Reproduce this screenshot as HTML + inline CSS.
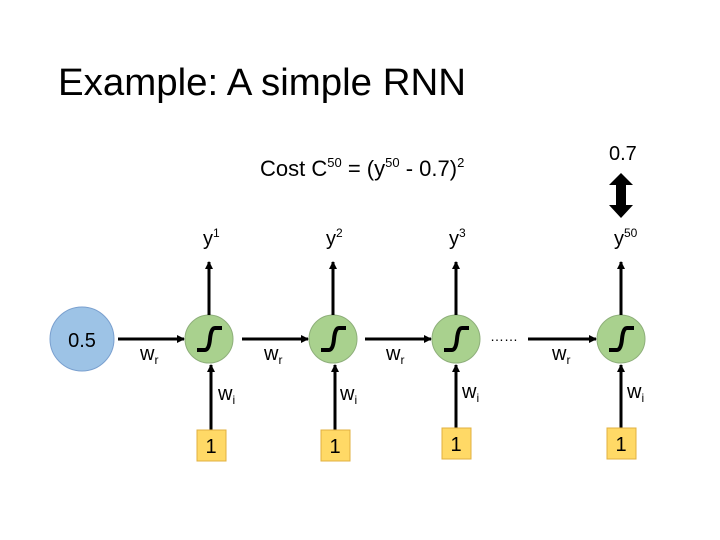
<!DOCTYPE html>
<html><head><meta charset="utf-8"><style>
html,body{margin:0;padding:0;background:#fff}
svg{display:block}
text{font-family:"Liberation Sans",sans-serif;fill:#000}
</style></head><body>
<svg width="720" height="540" viewBox="0 0 720 540" xmlns="http://www.w3.org/2000/svg">
<defs>
<marker id="a" markerWidth="8" markerHeight="8" refX="7" refY="4" orient="auto" markerUnits="userSpaceOnUse">
<path d="M0,0 L8,4 L0,8 z" fill="#000"/></marker>
<g id="sig"><circle r="24" fill="#a9d18e" stroke="#8eaf7a" stroke-width="1"/>
<path d="M-12,11 L-4,11 Q0,11 1,0 Q2,-11 6,-11 L13,-11" fill="none" stroke="#000" stroke-width="4"/></g>
</defs>
<text x="58" y="95" font-size="38" textLength="408" lengthAdjust="spacingAndGlyphs">Example: A simple RNN</text>
<text x="260" y="176" font-size="22">Cost C<tspan font-size="13" dy="-9">50</tspan><tspan dy="9"> = (y</tspan><tspan font-size="13" dy="-9">50</tspan><tspan dy="9"> - 0.7)</tspan><tspan font-size="13" dy="-9">2</tspan></text>
<text x="609" y="160" font-size="20">0.7</text>
<path d="M621,173 L633,185 L626,185 L626,205 L633,205 L621,218 L609,205 L616,205 L616,185 L609,185 z" fill="#000"/>
<circle cx="82" cy="339" r="32" fill="#9dc3e6" stroke="#7aa0cf" stroke-width="1"/>
<text x="82" y="347" font-size="20" text-anchor="middle">0.5</text>
<g stroke="#000" stroke-width="3" fill="none">
<line x1="118" y1="339" x2="184" y2="339" marker-end="url(#a)"/>
<line x1="242" y1="339" x2="308" y2="339" marker-end="url(#a)"/>
<line x1="365" y1="339" x2="431" y2="339" marker-end="url(#a)"/>
<line x1="528" y1="339" x2="596" y2="339" marker-end="url(#a)"/>
</g>
<text x="490" y="341" font-size="14">……</text>
<g>
<use href="#sig" x="209" y="339"/><use href="#sig" x="333" y="339"/><use href="#sig" x="456" y="339"/><use href="#sig" x="621" y="339"/>
</g>
<g stroke="#000" stroke-width="3">
<line x1="209" y1="315" x2="209" y2="262" marker-end="url(#a)"/>
<line x1="333" y1="315" x2="333" y2="262" marker-end="url(#a)"/>
<line x1="456" y1="315" x2="456" y2="262" marker-end="url(#a)"/>
<line x1="621" y1="315" x2="621" y2="262" marker-end="url(#a)"/>
<line x1="211" y1="430" x2="211" y2="365" marker-end="url(#a)"/>
<line x1="335" y1="430" x2="335" y2="365" marker-end="url(#a)"/>
<line x1="456" y1="430" x2="456" y2="365" marker-end="url(#a)"/>
<line x1="621" y1="430" x2="621" y2="365" marker-end="url(#a)"/>
</g>
<g fill="#ffd966" stroke="#e0b040" stroke-width="1">
<rect x="197" y="430" width="29" height="31"/><rect x="321" y="430" width="29" height="31"/>
<rect x="442" y="428" width="29" height="31"/><rect x="607" y="428" width="29" height="31"/>
</g>
<g font-size="20" text-anchor="middle">
<text x="211" y="453">1</text><text x="335" y="453">1</text><text x="456" y="451">1</text><text x="621" y="451">1</text>
</g>
<g font-size="20">
<text x="203" y="245">y<tspan font-size="12" dy="-8">1</tspan></text>
<text x="326" y="245">y<tspan font-size="12" dy="-8">2</tspan></text>
<text x="449" y="245">y<tspan font-size="12" dy="-8">3</tspan></text>
<text x="614" y="245">y<tspan font-size="12" dy="-8">50</tspan></text>
<text x="140" y="360">w<tspan font-size="12" dy="4">r</tspan></text>
<text x="264" y="360">w<tspan font-size="12" dy="4">r</tspan></text>
<text x="386" y="360">w<tspan font-size="12" dy="4">r</tspan></text>
<text x="552" y="360">w<tspan font-size="12" dy="4">r</tspan></text>
<text x="218" y="400">w<tspan font-size="12" dy="4">i</tspan></text>
<text x="340" y="400">w<tspan font-size="12" dy="4">i</tspan></text>
<text x="462" y="398">w<tspan font-size="12" dy="4">i</tspan></text>
<text x="627" y="398">w<tspan font-size="12" dy="4">i</tspan></text>
</g>
</svg>
</body></html>
